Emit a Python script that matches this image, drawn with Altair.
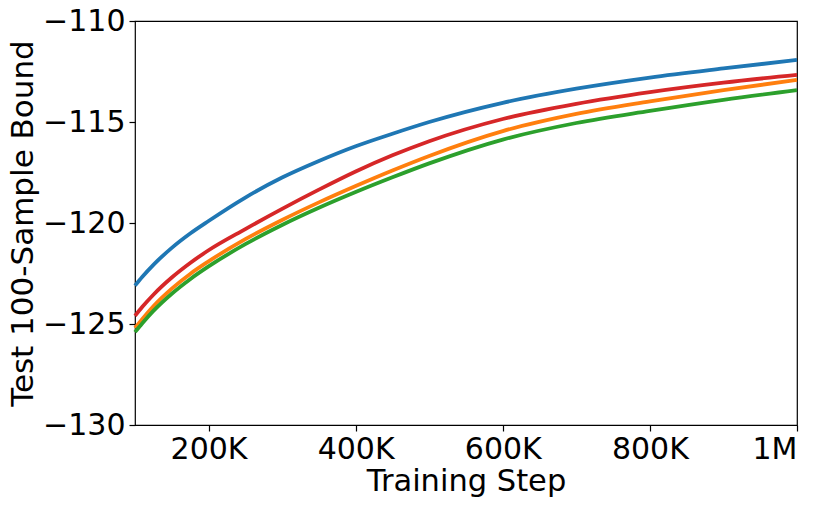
import altair as alt
import pandas as pd

steps = [100000, 110000, 125000, 150000, 175000, 200000, 250000, 300000, 350000,
         400000, 450000, 500000, 600000, 700000, 800000, 900000, 1000000]

blue = [-123.1, -122.66, -122.07, -121.23, -120.52, -119.9, -118.74, -117.75,
        -116.93, -116.2, -115.58, -115.0, -114.05, -113.35, -112.8, -112.35, -111.93]
red = [-124.6, -124.15, -123.55, -122.7, -121.98, -121.35, -120.3, -119.3,
       -118.35, -117.45, -116.65, -115.95, -114.85, -114.1, -113.52, -113.05, -112.67]
orange = [-125.2, -124.75, -124.12, -123.25, -122.52, -121.9, -120.8, -119.85,
          -118.98, -118.17, -117.4, -116.68, -115.45, -114.6, -113.98, -113.42, -112.92]
green = [-125.4, -124.96, -124.35, -123.5, -122.78, -122.15, -121.05, -120.1,
         -119.25, -118.47, -117.74, -117.05, -115.87, -115.05, -114.45, -113.9, -113.42]

series_names = ["blue", "orange", "green", "red"]
series_values = [blue, orange, green, red]
series_colors = ["#1f77b4", "#ff7f0e", "#2ca02c", "#d62728"]

rows = []
for name, vals in zip(series_names, series_values):
    for s, v in zip(steps, vals):
        rows.append({"step": s, "bound": v, "series": name})
df = pd.DataFrame(rows)

x_ticks = [200000, 400000, 600000, 800000, 1000000]
y_ticks = [-130, -125, -120, -115, -110]

FONT = "DejaVu Sans"

chart = alt.Chart(df).mark_line(strokeWidth=3.8, interpolate="monotone").encode(
    x=alt.X("step:Q", scale=alt.Scale(domain=[100000, 1000000], nice=False, zero=False),
            axis=alt.Axis(values=x_ticks, title="Training Step", titleFontSize=30.5,
                          labelExpr="datum.value >= 1000000 ? '1M' : (datum.value/1000) + 'K'")),
    y=alt.Y("bound:Q", scale=alt.Scale(domain=[-130, -110], nice=False, zero=False),
            axis=alt.Axis(values=y_ticks, title="Test 100-Sample Bound", format="d",
                          titleFontSize=31)),
    color=alt.Color("series:N", scale=alt.Scale(domain=series_names, range=series_colors),
                    legend=None),
    order=alt.Order("series:N"),
).properties(
    width=662, height=404,
    autosize=alt.AutoSizeParams(type="none"),
    padding={"left": 127, "top": 13, "right": 26, "bottom": 76},
).configure_view(
    stroke="black", strokeWidth=1.2
).configure_axis(
    grid=False, domain=False,
    tickColor="black", tickSize=6, tickWidth=1.2,
    labelFont=FONT, labelFontSize=30, labelColor="black", labelPadding=4,
    titleFont=FONT, titleColor="black", titleFontWeight="normal",
).configure_axisX(titlePadding=2, labelPadding=3).configure_axisY(titlePadding=3)

chart.save("out.html", embed_options={"renderer": "svg", "actions": False})
